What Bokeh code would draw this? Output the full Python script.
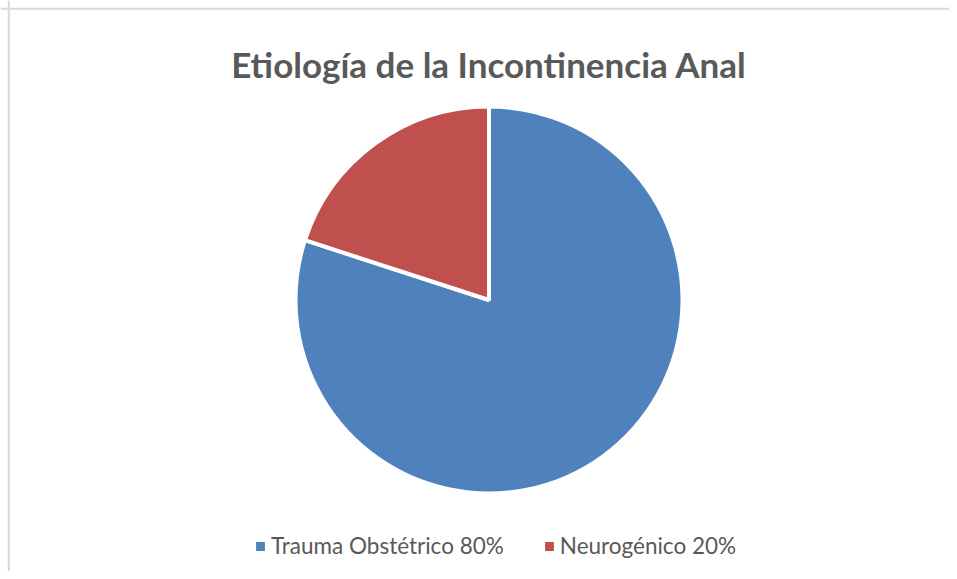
import numpy as np
from bokeh.plotting import figure
from bokeh.models import Range1d, Legend, LegendItem, Label, Span, ColumnDataSource
from bokeh.embed import file_html
from bokeh.resources import INLINE

# ---- data ----
title_text = "Etiología de la Incontinencia Anal"
categories = ["Trauma Obstétrico 80%", "Neurogénico 20%"]
values = [80, 20]
colors = ["#4F81BD", "#C0504D"]

W, H = 949, 571
p = figure(width=W, height=H, output_backend="svg", toolbar_location=None,
           x_range=Range1d(0, W), y_range=Range1d(0, H),
           x_axis_location=None, y_axis_location=None, title=None,
           min_border=0, outline_line_color=None,
           background_fill_color="white", border_fill_color="white")
p.grid.visible = False

# pie geometry
cx, cy, r = 488.5, 271.5, 193.5
vals = np.array(values, dtype=float)
frac = vals / vals.sum()
cum = np.concatenate([[0], np.cumsum(frac)])
start = np.pi / 2 - 2 * np.pi * cum[:-1]
end = np.pi / 2 - 2 * np.pi * cum[1:]
src = ColumnDataSource(dict(x=[cx] * len(vals), y=[cy] * len(vals),
                            start=start, end=end, color=colors, label=categories))
wr = p.wedge(x="x", y="y", radius=r, start_angle="start", end_angle="end",
             direction="clock", fill_color="color", line_color="white",
             line_width=4, source=src)

# chart border (left and top visible)
p.add_layout(Span(location=8.3, dimension="height", line_color="#D9D9D9", line_width=2))
p.add_layout(Span(location=H - 8.3, dimension="width", line_color="#D9D9D9", line_width=2))

# title
p.add_layout(Label(x=cx, y=H - 63, x_units="screen", y_units="screen", text=title_text,
                   text_align="center", text_baseline="alphabetic",
                   text_font="Lato", text_font_style="bold", text_font_size="35px",
                   text_color="#595959"))

items = [LegendItem(label=categories[i], renderers=[wr], index=i) for i in range(len(vals))]
legend = Legend(items=items, orientation="horizontal", location=(252, 12),
                padding=0, margin=0, spacing=37, label_standoff=3,
                glyph_width=16, glyph_height=16,
                label_text_font="Lato", label_text_font_size="22.5px",
                label_text_color="#595959",
                border_line_color=None, background_fill_alpha=0)
p.add_layout(legend)

open("out.html", "w").write(file_html(p, INLINE))
